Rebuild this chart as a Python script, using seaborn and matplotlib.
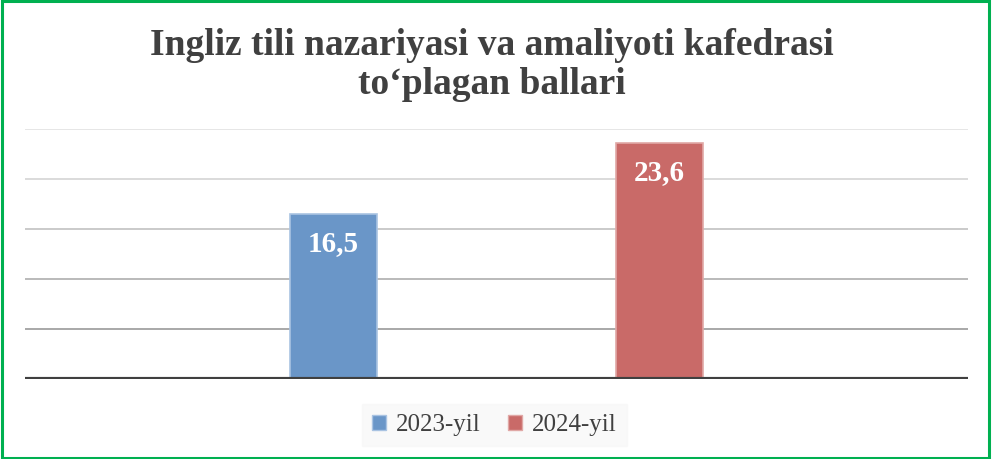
import matplotlib
matplotlib.use("Agg")
import matplotlib.pyplot as plt
import seaborn as sns
import pandas as pd
from matplotlib.patches import Rectangle

# data
series = ["2023-yil", "2024-yil"]
ballar = [16.5, 23.6]
labels = ["16,5", "23,6"]
grid_ticks = [5, 10, 15, 20, 25]

colors = ["#6a96c8", "#c96a68"]
edges = ["#a9c3e2", "#e0a8a6"]
grid_colors = ["#a8a8a8", "#bababa", "#cacaca", "#dadada", "#e6e6e6"]

sns.set_theme(style="white")
plt.rcParams["font.family"] = ["Liberation Serif", "DejaVu Serif"]

df = pd.DataFrame({"seriya": series, "ball": ballar})

fig = plt.figure(figsize=(9.92, 4.59), dpi=100)
ax = fig.add_axes([25 / 992, 1 - 379 / 459, 943 / 992, 250 / 459])

sns.barplot(data=df, x="seriya", y="ball", hue="seriya", palette=colors,
            saturation=1, width=0.267, legend=False, ax=ax, zorder=3)

for bar, ec in zip(ax.patches, edges):
    bar.set_edgecolor(ec)
    bar.set_linewidth(1.2)

for t, c in zip(grid_ticks, grid_colors):
    ax.axhline(t, color=c, lw=1.4, zorder=1)
ax.axhline(0, color="#404040", lw=3, zorder=4)

# value labels inside the bars
for bar, lab in zip(ax.patches, labels):
    ax.text(bar.get_x() + bar.get_width() / 2, bar.get_height() - 1.6, lab,
            ha="center", va="top", color="white", fontsize=21, fontweight="bold",
            zorder=5)

ax.set_xlim(-0.946, 1.946)
ax.set_ylim(0, 25)
ax.set_xticks([])
ax.set_yticks([])
ax.set_xlabel("")
ax.set_ylabel("")
sns.despine(ax=ax, left=True, bottom=True)

fig.text(0.496, 1 - 65 / 459, "Ingliz tili nazariyasi va amaliyoti kafedrasi\nto\u2018plagan ballari",
         ha="center", va="center", fontsize=27, fontweight="bold", color="#404040",
         linespacing=1.18)

# legend
handles = [Rectangle((0, 0), 1, 1, facecolor=c, edgecolor=e) for c, e in zip(colors, edges)]
leg = fig.legend(handles, series, loc="center", bbox_to_anchor=(0.4985, 1 - 425 / 459),
                 ncol=2, frameon=True, fontsize=18, handlelength=0.55, handleheight=0.55,
                 handletextpad=0.4, columnspacing=1.1, borderpad=0.4)
leg.get_frame().set_facecolor("#f8f8f8")
leg.get_frame().set_edgecolor("#f8f8f8")
leg.get_frame().set_boxstyle("square", pad=0)
for txt in leg.get_texts():
    txt.set_color("#404040")

fig.patches.append(Rectangle((0.002, 0.003), 0.995, 0.994, transform=fig.transFigure,
                             fill=False, edgecolor="#00b050", linewidth=2.2))

fig.savefig("out.png", dpi=100)
